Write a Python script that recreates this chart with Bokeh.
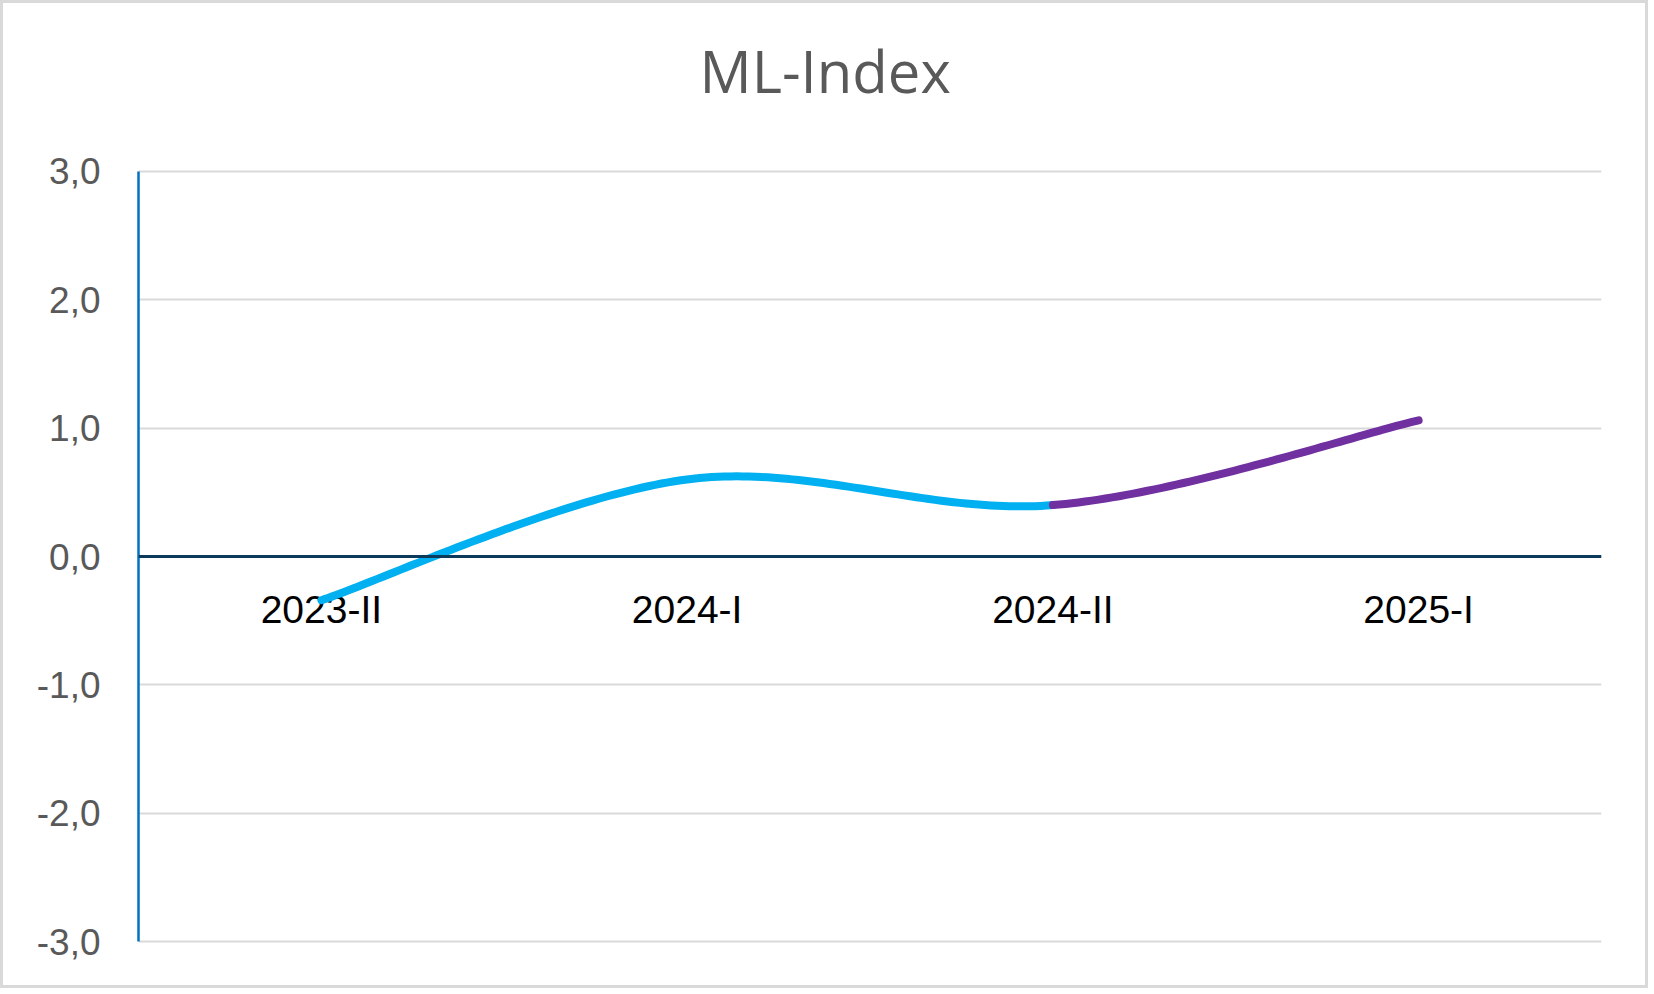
import numpy as np
from bokeh.plotting import figure
from bokeh.models import FixedTicker, Span, Title
from bokeh.core.properties import value
from bokeh.embed import file_html
from bokeh.resources import INLINE

# ---- data ----
categories = ["2023-II", "2024-I", "2024-II", "2025-I"]
ml_index = [-0.34, 0.60, 0.40, 1.06]
blue_upto = 2          # blue series covers points 0..2, purple covers 2..3
y_ticks = [-3, -2, -1, 0, 1, 2, 3]
y_labels = ["-3,0", "-2,0", "-1,0", "0,0", "1,0", "2,0", "3,0"]
title_text = "ML-Index"

xs = [i + 0.5 for i in range(len(categories))]

def smooth(xp, yp, i0, i1, n=60):
    """Excel-like smoothed line (Catmull-Rom Bezier) for segments i0..i1."""
    P = np.column_stack([xp, yp])
    m = len(P)
    out = []
    for i in range(i0, i1):
        p_prev = P[max(i - 1, 0)]
        p0 = P[i]
        p1 = P[i + 1]
        p_next = P[min(i + 2, m - 1)]
        c1 = p0 + (p1 - p_prev) / 6.0
        c2 = p1 - (p_next - p0) / 6.0
        t = np.linspace(0, 1, n)[:, None]
        seg = ((1 - t) ** 3) * p0 + 3 * ((1 - t) ** 2) * t * c1 + 3 * (1 - t) * t ** 2 * c2 + t ** 3 * p1
        if out:
            seg = seg[1:]
        out.append(seg)
    a = np.vstack(out)
    return a[:, 0], a[:, 1]

BORDER = 3
W, H = 1654 - 2 * BORDER, 994 - 2 * BORDER
PAD = 0.02
ML, MR, MT, MB = 135, 50, 165, 47

p = figure(width=W, height=H, output_backend="svg", toolbar_location=None,
           x_range=(0, len(categories)), y_range=(y_ticks[0] - PAD, y_ticks[-1] + PAD),
           min_border_left=ML, min_border_right=MR,
           min_border_top=MT, min_border_bottom=MB)
p.styles = {"border": f"{BORDER}px solid #D9D9D9"}
p.outline_line_color = None
p.background_fill_color = "white"
p.border_fill_color = "white"
p.title.visible = False

# spacer panel next to the frame, then the title above it
spacer = Title(text=" ", text_font_size="1px", standoff=56)
p.add_layout(spacer, "above")
main_title = Title(text=title_text, align="left", offset=561,
                   text_font="Open Sans", text_font_size="58px",
                   text_font_style="normal", text_color="#595959", standoff=0)
p.add_layout(main_title, "above")

# axes
p.xaxis.visible = False
p.xgrid.visible = False
yax = p.yaxis[0]
yax.ticker = FixedTicker(ticks=y_ticks)
yax.bounds = (y_ticks[0], y_ticks[-1])
yax.major_label_overrides = {t: l for t, l in zip(y_ticks, y_labels)}
yax.axis_line_color = "#0070C0"
yax.axis_line_width = 2.5
yax.major_tick_line_color = None
yax.minor_tick_line_color = None
yax.major_tick_out = 0
yax.major_tick_in = 0
yax.major_label_standoff = 38
yax.major_label_text_font = "Liberation Sans"
yax.major_label_text_font_size = "37px"
yax.major_label_text_color = "#595959"

p.ygrid.ticker = FixedTicker(ticks=y_ticks)
p.ygrid.grid_line_color = "#D9D9D9"
p.ygrid.grid_line_width = 2

zero = Span(location=0, dimension="width", line_color="#0B3A5B", line_width=3)
p.add_layout(zero)

# category labels near the zero line
p.text(x=xs, y=[0] * len(xs), text=categories, text_align="center",
       text_baseline="middle", y_offset=53,
       text_font=value("Liberation Sans"), text_font_size="39px", text_color="black")

# lines
bx, by = smooth(xs, ml_index, 0, blue_upto)
p.line(bx, by, line_color="#00B0F0", line_width=8, line_cap="round", line_join="round")
px_, py_ = smooth(xs, ml_index, blue_upto, len(xs) - 1)
p.line(px_, py_, line_color="#7030A0", line_width=8, line_cap="round", line_join="round")

open("out.html", "w").write(file_html(p, INLINE))
